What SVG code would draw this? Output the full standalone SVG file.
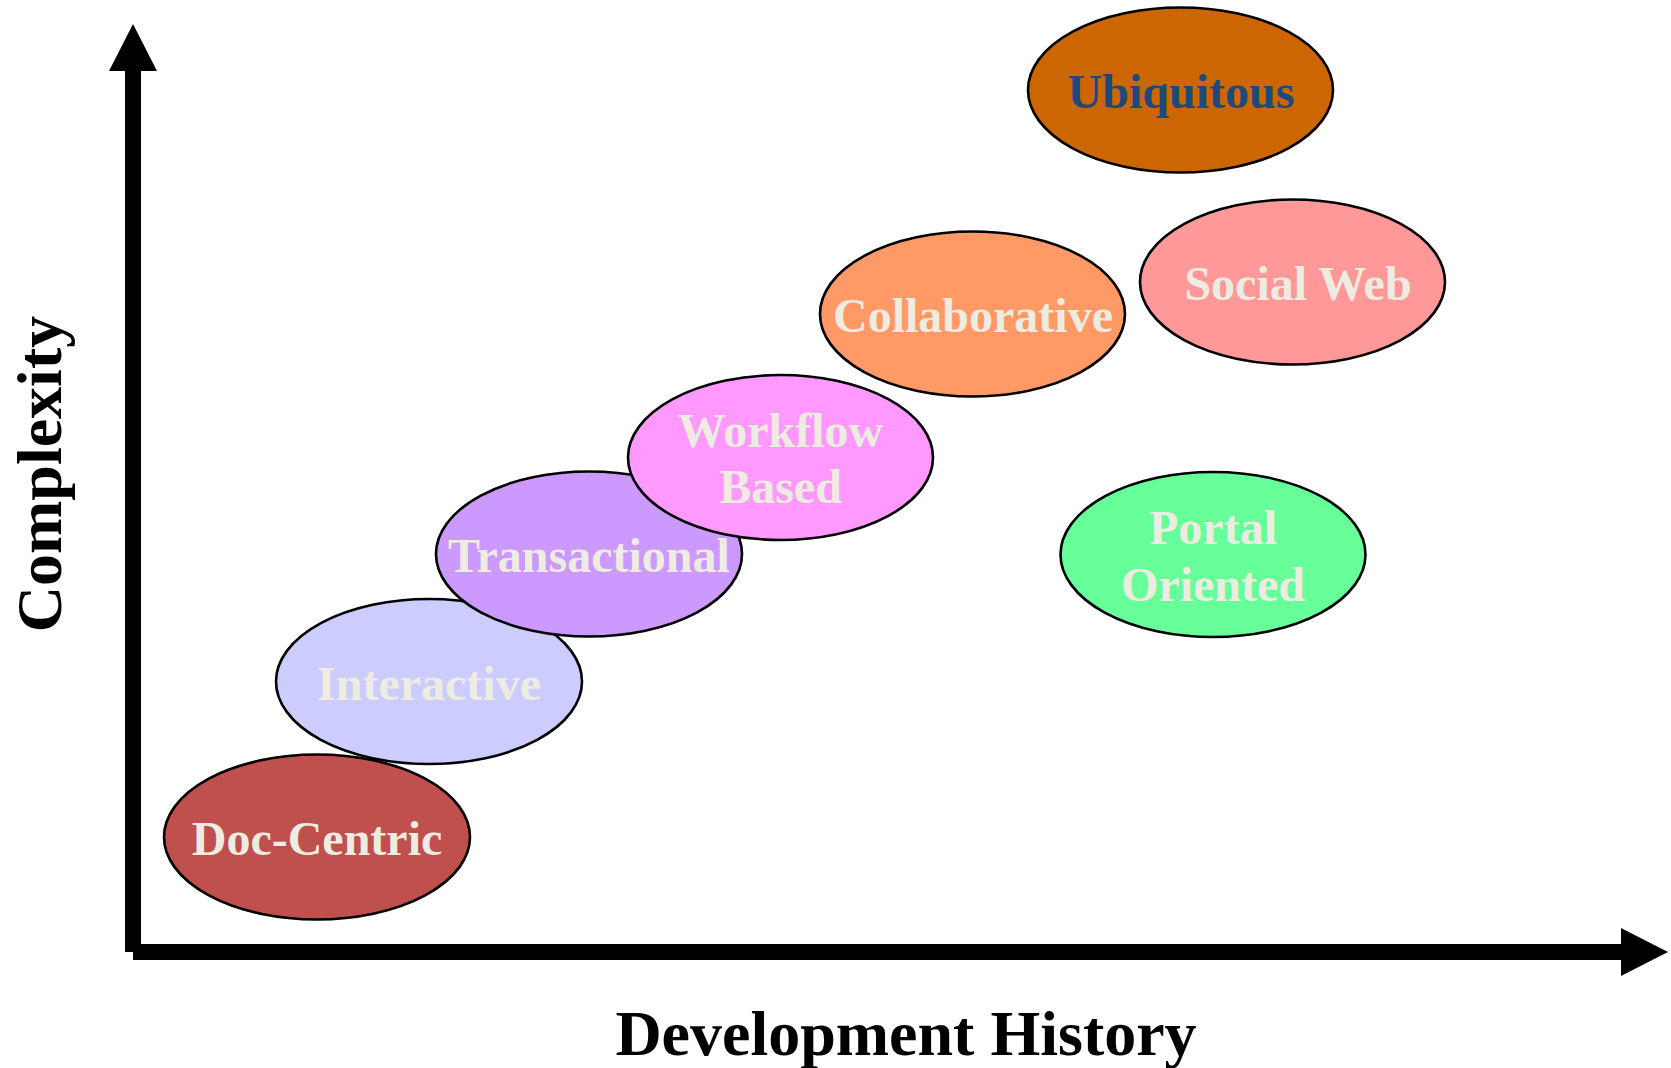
<svg xmlns="http://www.w3.org/2000/svg" width="1671" height="1068" viewBox="0 0 1671 1068">
<style>
.node ellipse{stroke:#000;stroke-width:2.6}
.lbl{font-family:"Liberation Serif","Times New Roman",serif;font-weight:bold;font-size:48px;fill:#EEECE1;text-anchor:middle}
.axis-lbl{font-family:"Liberation Serif","Times New Roman",serif;font-weight:bold;font-size:64px;fill:#000;text-anchor:middle}
</style>
<rect width="1671" height="1068" fill="#fff"/>
<g id="connectors">
  <rect x="125" y="68" width="16" height="884" fill="#000"/>
  <polygon points="133,24 157,71 109,71" fill="#000"/>
  <rect x="133" y="944" width="1490" height="16" fill="#000"/>
  <polygon points="1668,952 1621,976 1621,928" fill="#000"/>
</g>
<g id="node-doc-centric" class="node">
  <ellipse cx="317" cy="837" rx="153" ry="82.5" fill="#C0504D"/>
  <text class="lbl" x="317" y="855">Doc-Centric</text>
</g>
<g id="node-interactive" class="node">
  <ellipse cx="429" cy="681.5" rx="153" ry="82.5" fill="#CCCCFF"/>
  <text class="lbl" x="429" y="700">Interactive</text>
</g>
<g id="node-transactional" class="node">
  <ellipse cx="589" cy="554" rx="153" ry="82.5" fill="#CC99FF"/>
  <text class="lbl" x="589" y="572">Transactional</text>
</g>
<g id="node-workflow" class="node">
  <ellipse cx="780.5" cy="457.5" rx="152.5" ry="82.5" fill="#FF99FF"/>
  <text class="lbl" x="780.5" y="447">Workflow</text>
  <text class="lbl" x="780.5" y="503">Based</text>
</g>
<g id="node-collaborative" class="node">
  <ellipse cx="972.5" cy="314" rx="152.5" ry="82.5" fill="#FF9966"/>
  <text class="lbl" x="973" y="332">Collaborative</text>
</g>
<g id="node-social-web" class="node">
  <ellipse cx="1292.5" cy="282" rx="152.5" ry="82.5" fill="#FF9999"/>
  <text class="lbl" x="1298" y="300">Social Web</text>
</g>
<g id="node-portal" class="node">
  <ellipse cx="1213" cy="554.5" rx="152.5" ry="82.5" fill="#66FF99"/>
  <text class="lbl" x="1213" y="544">Portal</text>
  <text class="lbl" x="1213" y="601">Oriented</text>
</g>
<g id="node-ubiquitous" class="node">
  <ellipse cx="1180.5" cy="90" rx="152.5" ry="82.5" fill="#CC6600"/>
  <text class="lbl" x="1181" y="108" style="fill:#1F497D">Ubiquitous</text>
</g>
<g id="axis-labels">
  <text class="axis-lbl" x="906" y="1055">Development History</text>
  <text class="axis-lbl" transform="translate(61,474) rotate(-90)">Complexity</text>
</g>
</svg>
